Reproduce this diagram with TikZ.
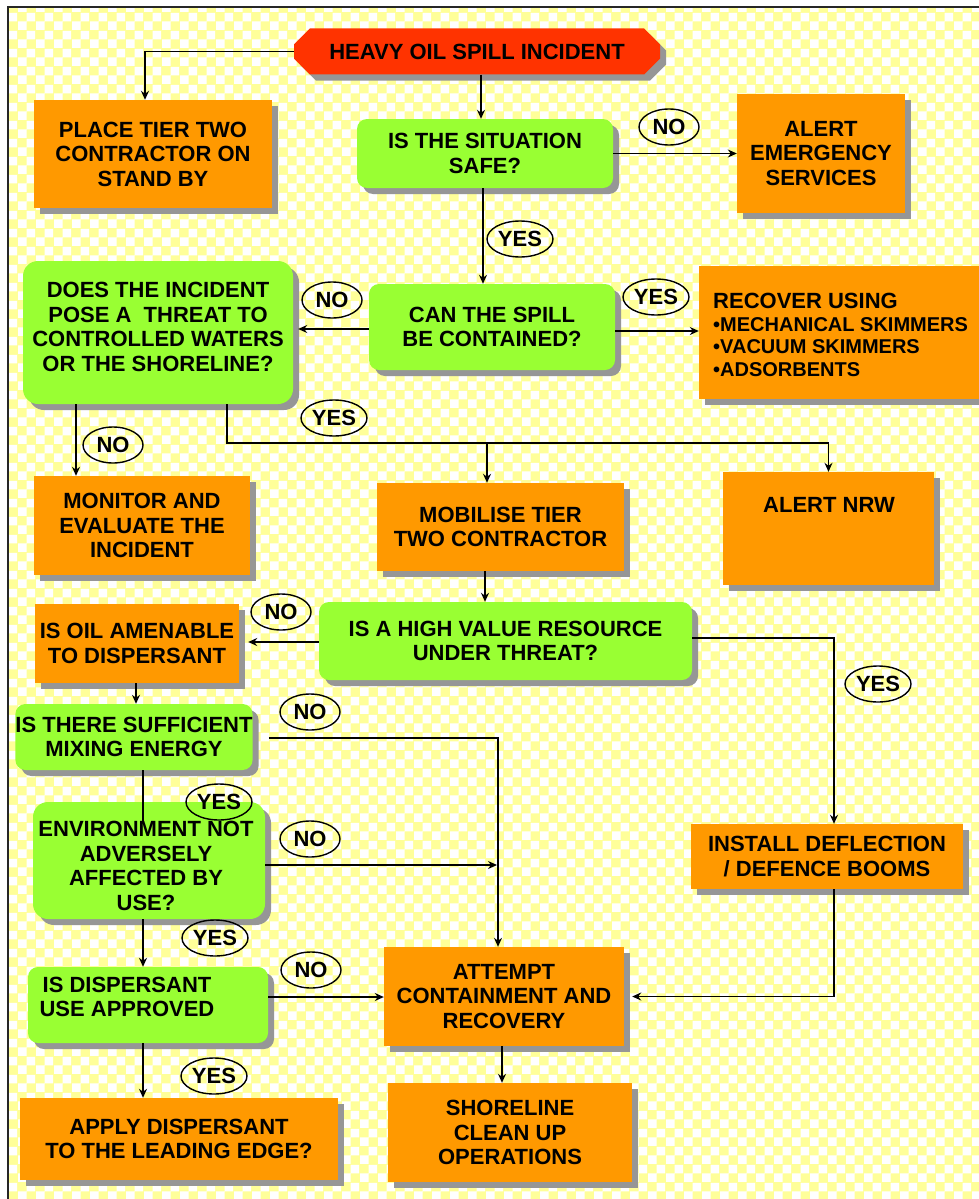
\documentclass[tikz,border=0pt]{standalone}
\usepackage{fontspec}
\setmainfont{Liberation Sans}
\usetikzlibrary{shapes.geometric,shapes.misc,shadows,arrows.meta,patterns}

\definecolor{paleyellow}{HTML}{FFFF99}
\definecolor{boxorange}{HTML}{FF9900}
\definecolor{boxgreen}{HTML}{99FF33}
\definecolor{alarmred}{HTML}{FF3300}
\definecolor{shadowgray}{HTML}{969696}

% white squares of the checkered paper
\pgfdeclarepatternformonly{checks}{\pgfqpoint{0pt}{0pt}}{\pgfqpoint{18pt}{18pt}}{\pgfqpoint{18pt}{18pt}}{%
  \pgfpathrectangle{\pgfqpoint{0pt}{0pt}}{\pgfqpoint{9pt}{9pt}}%
  \pgfpathrectangle{\pgfqpoint{9pt}{9pt}}{\pgfqpoint{9pt}{9pt}}%
  \pgfusepath{fill}%
}

\tikzset{
  boxshadow/.style={drop shadow={shadow xshift=6pt, shadow yshift=-6pt, fill=shadowgray, opacity=1}},
  txt/.style={font=\bfseries\fontsize{22}{24.5}\selectfont, align=center, inner sep=0pt},
  obox/.style={rectangle, fill=boxorange, boxshadow, txt},
  gbox/.style={rectangle, rounded corners=10pt, fill=boxgreen, boxshadow, txt},
  startbox/.style={chamfered rectangle, chamfered rectangle xsep=13pt, chamfered rectangle ysep=8pt,
    fill=alarmred, boxshadow, txt, minimum width=366pt, minimum height=46pt},
  answer/.style={ellipse, draw, line width=1.4pt, minimum height=36pt, txt},
  noans/.style={answer, minimum width=60pt},
  yesans/.style={answer, minimum width=66pt},
  link/.style={line width=1.4pt},
  arr/.style={link, -{Stealth[length=9pt, width=8pt, inset=3pt]}},
}

\begin{document}
\begin{tikzpicture}[x=1pt, y=-1pt]
\useasboundingbox (0,0) rectangle (979,1199);
\clip (0,0) rectangle (979,1199);

% paper
\fill[white] (0,0) rectangle (979,1199);
\fill[paleyellow] (8,7) rectangle (990,1210);
\fill[pattern=checks, pattern color=white] (8,7) rectangle (990,1210);
\draw[line width=2pt, black!85] (8,1210) -- (8,7) -- (990,7);

% boxes
\node[startbox] (heavy) at (477,51.5) {HEAVY OIL SPILL INCIDENT};
\node[obox, minimum width=238pt, minimum height=108pt] (place) at (153,154) {PLACE TIER TWO\\CONTRACTOR ON\\STAND BY};
\node[gbox, minimum width=256pt, minimum height=69pt] (safe) at (485,153.5) {IS THE SITUATION\\SAFE?};
\node[obox, minimum width=168pt, minimum height=119pt] (alertes) at (821,153.5) {ALERT\\EMERGENCY\\SERVICES};
\node[gbox, minimum width=246pt, minimum height=86pt] (can) at (492,327) {CAN THE SPILL\\BE CONTAINED?};
\node[gbox, rounded corners=15pt, minimum width=270pt, minimum height=143pt] (does) at (158,332.5) {};
\node[txt] (does-t) at (158,327) {DOES THE INCIDENT\\POSE A\ \ THREAT TO\\CONTROLLED WATERS\\OR THE SHORELINE?};
\node[obox, minimum width=291pt, minimum height=133pt] (recover) at (844.5,332.5) {};
\node[txt, align=left, anchor=west, font=\bfseries\fontsize{20}{22.7}\selectfont] (recover-t) at (713,335)
  {{\fontsize{22}{22.7}\selectfont RECOVER USING}\\•MECHANICAL SKIMMERS\\•VACUUM SKIMMERS\\•ADSORBENTS};
\node[obox, minimum width=216pt, minimum height=99pt] (monitor) at (142,525.5) {MONITOR AND\\EVALUATE THE\\INCIDENT};
\node[obox, minimum width=247pt, minimum height=88pt] (mobilise) at (500.5,527) {MOBILISE TIER\\TWO CONTRACTOR};
\node[obox, minimum width=211pt, minimum height=113pt] (nrw) at (828.5,528.5) {};
\node[txt] (nrw-t) at (829,505) {ALERT NRW};
\node[gbox, minimum width=373pt, minimum height=78pt] (high) at (505.5,641) {IS A HIGH VALUE RESOURCE\\UNDER THREAT?};
\node[obox, minimum width=204pt, minimum height=79pt] (amen) at (137,643.5) {IS OIL AMENABLE\\TO DISPERSANT};
\node[gbox, minimum width=232pt, minimum height=66pt] (suff) at (134,737) {IS THERE SUFFICIENT\\MIXING ENERGY};
\node[gbox, rounded corners=15pt, minimum width=232pt, minimum height=117pt] (env) at (149,860.5) {};
\node[txt] (env-t) at (146,866) {ENVIRONMENT NOT\\ADVERSELY\\AFFECTED BY\\USE?};
\node[obox, minimum width=272pt, minimum height=65pt] (install) at (827,856.5) {INSTALL DEFLECTION\\/ DEFENCE BOOMS};
\node[gbox, minimum width=240pt, minimum height=76pt] (disp) at (148,1005) {};
\node[txt] (disp-t) at (127,997) {IS DISPERSANT\\USE APPROVED};
\node[obox, minimum width=240pt, minimum height=99pt] (attempt) at (504,996.5) {ATTEMPT\\CONTAINMENT AND\\RECOVERY};
\node[obox, minimum width=318pt, minimum height=82pt] (apply) at (179,1139) {APPLY DISPERSANT\\TO THE LEADING EDGE?};
\node[obox, minimum width=244pt, minimum height=99pt] (shore) at (510,1132.5) {SHORELINE\\CLEAN UP\\OPERATIONS};

% connectors
\draw[arr] (heavy.west) -| ([xshift=-8pt]place.north);
\draw[arr] ([xshift=4pt]heavy.south) -- ([xshift=4pt]heavy.south |- safe.north);
\draw[arr] (safe.east) -- (safe.east -| alertes.west);
\draw[arr] ([xshift=-2pt]safe.south) -- ([xshift=-2pt]safe.south |- can.north);
\draw[arr] ([yshift=-2pt]can.west) -- ([xshift=5pt,yshift=-2pt]can.west -| does.east);
\draw[arr] ([yshift=-4pt]can.east) -- ([yshift=-4pt]can.east -| recover.west);
\draw[arr] ([xshift=-82pt]does.south) -- ([xshift=-82pt]does.south |- monitor.north);
\draw[arr] ([xshift=69pt]does.south) |- ([yshift=29pt]nrw.north) -- (nrw.north);
\draw[arr] ([xshift=-13.5pt,yshift=40pt]mobilise.north) -- ([xshift=-13.5pt]mobilise.north);
\draw[arr] ([xshift=-15.5pt]mobilise.south) -- ([xshift=-15.5pt]mobilise.south |- high.north);
\draw[arr] ([yshift=-1pt]high.west) -- ([xshift=9pt,yshift=-1pt]high.west -| amen.east);
\draw[arr] ([yshift=3pt]high.east) -| ([xshift=7pt]install.north);
\draw[arr] ([xshift=-1pt]amen.south) -- ([xshift=-1pt]amen.south |- suff.north);
\draw[link] ([xshift=9pt]suff.south) -- ([xshift=9pt,yshift=-20pt]suff.south |- env.north);
\draw[arr] ([xshift=16pt,yshift=-1pt]suff.east) -| ([xshift=-6pt]attempt.north);
\draw[arr] ([yshift=-4.5pt]env.east) -- ([xshift=-7pt,yshift=-4.5pt]env.east -| attempt.north);
\draw[arr] ([xshift=-6pt]env.south) -- ([xshift=-6pt]env.south |- disp.north);
\draw[arr] ([yshift=8pt]disp.east) -- ([yshift=8pt]disp.east -| attempt.west);
\draw[arr] ([xshift=7pt]install.south) |- ([xshift=8pt]attempt.east);
\draw[arr] ([xshift=-2pt]attempt.south) -- ([xshift=-2pt]attempt.south |- shore.north);
\draw[arr] ([xshift=-5pt]disp.south) -- ([xshift=-5pt]disp.south |- apply.north);

% answers
\node[noans] (no-safe) at (669,127) {NO};
\node[yesans] (yes-safe) at (520,239) {YES};
\node[noans] (no-can) at (332,300) {NO};
\node[yesans] (yes-can) at (656,297) {YES};
\node[noans] (no-does) at (113,445) {NO};
\node[yesans] (yes-does) at (334,418) {YES};
\node[noans] (no-high) at (281,612) {NO};
\node[yesans] (yes-high) at (878,684) {YES};
\node[noans] (no-suff) at (310,712) {NO};
\node[yesans] (yes-suff) at (219,802) {YES};
\node[noans] (no-env) at (310,839) {NO};
\node[yesans] (yes-env) at (215,938) {YES};
\node[noans] (no-disp) at (311,970) {NO};
\node[yesans] (yes-disp) at (214,1076) {YES};
\end{tikzpicture}
\end{document}
